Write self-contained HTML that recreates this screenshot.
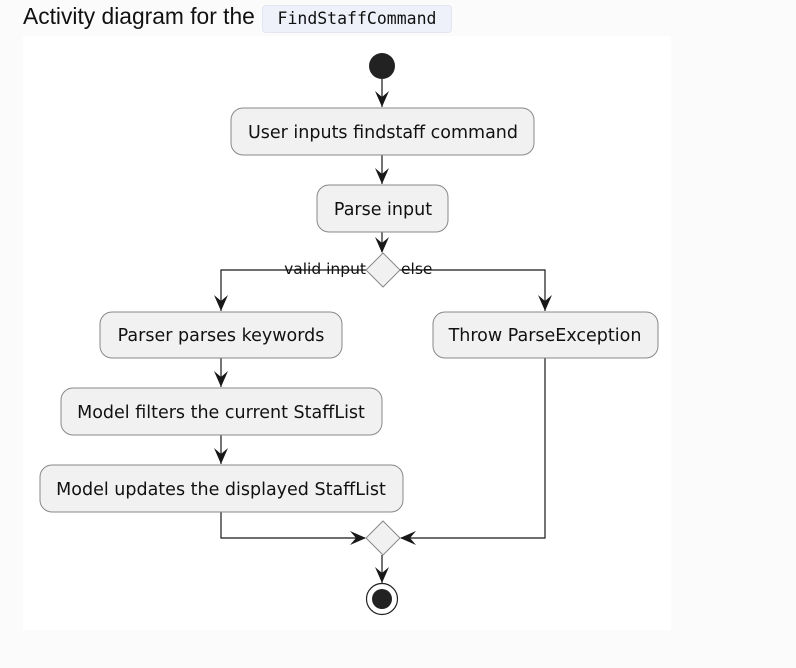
<!DOCTYPE html>
<html><head><style>
body{margin:0;width:796px;height:668px;background:#fbfbfb;position:relative;overflow:hidden;font-family:"Liberation Sans",Arial,sans-serif}
#title{position:absolute;left:23px;top:3px;font-size:22.8px;color:#111;white-space:nowrap}
#code{position:absolute;left:262px;top:5px;height:26px;width:188px;background:#eef0fa;border:1px solid #e3e5f3;border-radius:4px;font-family:"DejaVu Sans Mono","Liberation Mono",monospace;font-size:16.5px;line-height:26px;text-align:center;color:#111}
</style></head><body>
<div id="title">Activity diagram for the</div>
<div id="code">FindStaffCommand</div>
<svg style="position:absolute;left:0;top:0" width="796" height="668">
<rect x="23" y="36" width="648" height="594" fill="#fff"/>
<g stroke="#181818" stroke-width="1.2" fill="none">
<line x1="382" y1="79" x2="382" y2="107"/>
<line x1="382" y1="155" x2="382" y2="184"/>
<line x1="382" y1="232" x2="382" y2="252"/>
<polyline points="366,270 221,270 221,311"/>
<polyline points="400,270 545,270 545,311"/>
<line x1="221" y1="358" x2="221" y2="387"/>
<line x1="221" y1="435" x2="221" y2="464"/>
<polyline points="221,512 221,538 365,538"/>
<polyline points="545,358 545,538 401,538"/>
<line x1="382" y1="555" x2="382" y2="583"/>
</g>
<g fill="#181818">
<path d="M382,107 l-7,-16 l7,6 l7,-6z"/>
<path d="M382,184 l-7,-16 l7,6 l7,-6z"/>
<path d="M382,253 l-7,-16 l7,6 l7,-6z"/>
<path d="M221,311 l-7,-16 l7,6 l7,-6z"/>
<path d="M545,311 l-7,-16 l7,6 l7,-6z"/>
<path d="M221,387 l-7,-16 l7,6 l7,-6z"/>
<path d="M221,464 l-7,-16 l7,6 l7,-6z"/>
<path d="M382,583 l-7,-16 l7,6 l7,-6z"/>
<path d="M366,538 l-16,-7 l6,7 l-6,7z"/>
<path d="M400,538 l16,-7 l-6,7 l6,7z"/>
</g>
<circle cx="382" cy="66" r="13" fill="#222"/>
<g fill="#f1f1f1" stroke="#888" stroke-width="1">
<rect x="231" y="108" width="303" height="47" rx="12"/>
<rect x="317" y="185" width="131" height="47" rx="12"/>
<rect x="100" y="312" width="242" height="46" rx="12"/>
<rect x="433" y="312" width="225" height="46" rx="12"/>
<rect x="61" y="388" width="321" height="47" rx="12"/>
<rect x="40" y="465" width="363" height="47" rx="12"/>
<path d="M383,253 L400,270 L383,287 L366,270Z"/>
<path d="M383,521 L400,538 L383,555 L366,538Z"/>
</g>
<circle cx="382" cy="599" r="15.5" fill="none" stroke="#222" stroke-width="1.2"/>
<circle cx="382" cy="599" r="10" fill="#222"/>
<g font-family="'DejaVu Sans',sans-serif" font-size="17.5" fill="#111" text-anchor="middle">
<text x="383" y="138">User inputs findstaff command</text>
<text x="383" y="215">Parse input</text>
<text x="221" y="341">Parser parses keywords</text>
<text x="545" y="341">Throw ParseException</text>
<text x="221" y="418">Model filters the current StaffList</text>
<text x="221" y="495">Model updates the displayed StaffList</text>
</g>
<g font-family="'DejaVu Sans',sans-serif" font-size="15.5" fill="#111">
<text x="366" y="274" text-anchor="end">valid input</text>
<text x="401" y="274">else</text>
</g>
</svg>
</body></html>
